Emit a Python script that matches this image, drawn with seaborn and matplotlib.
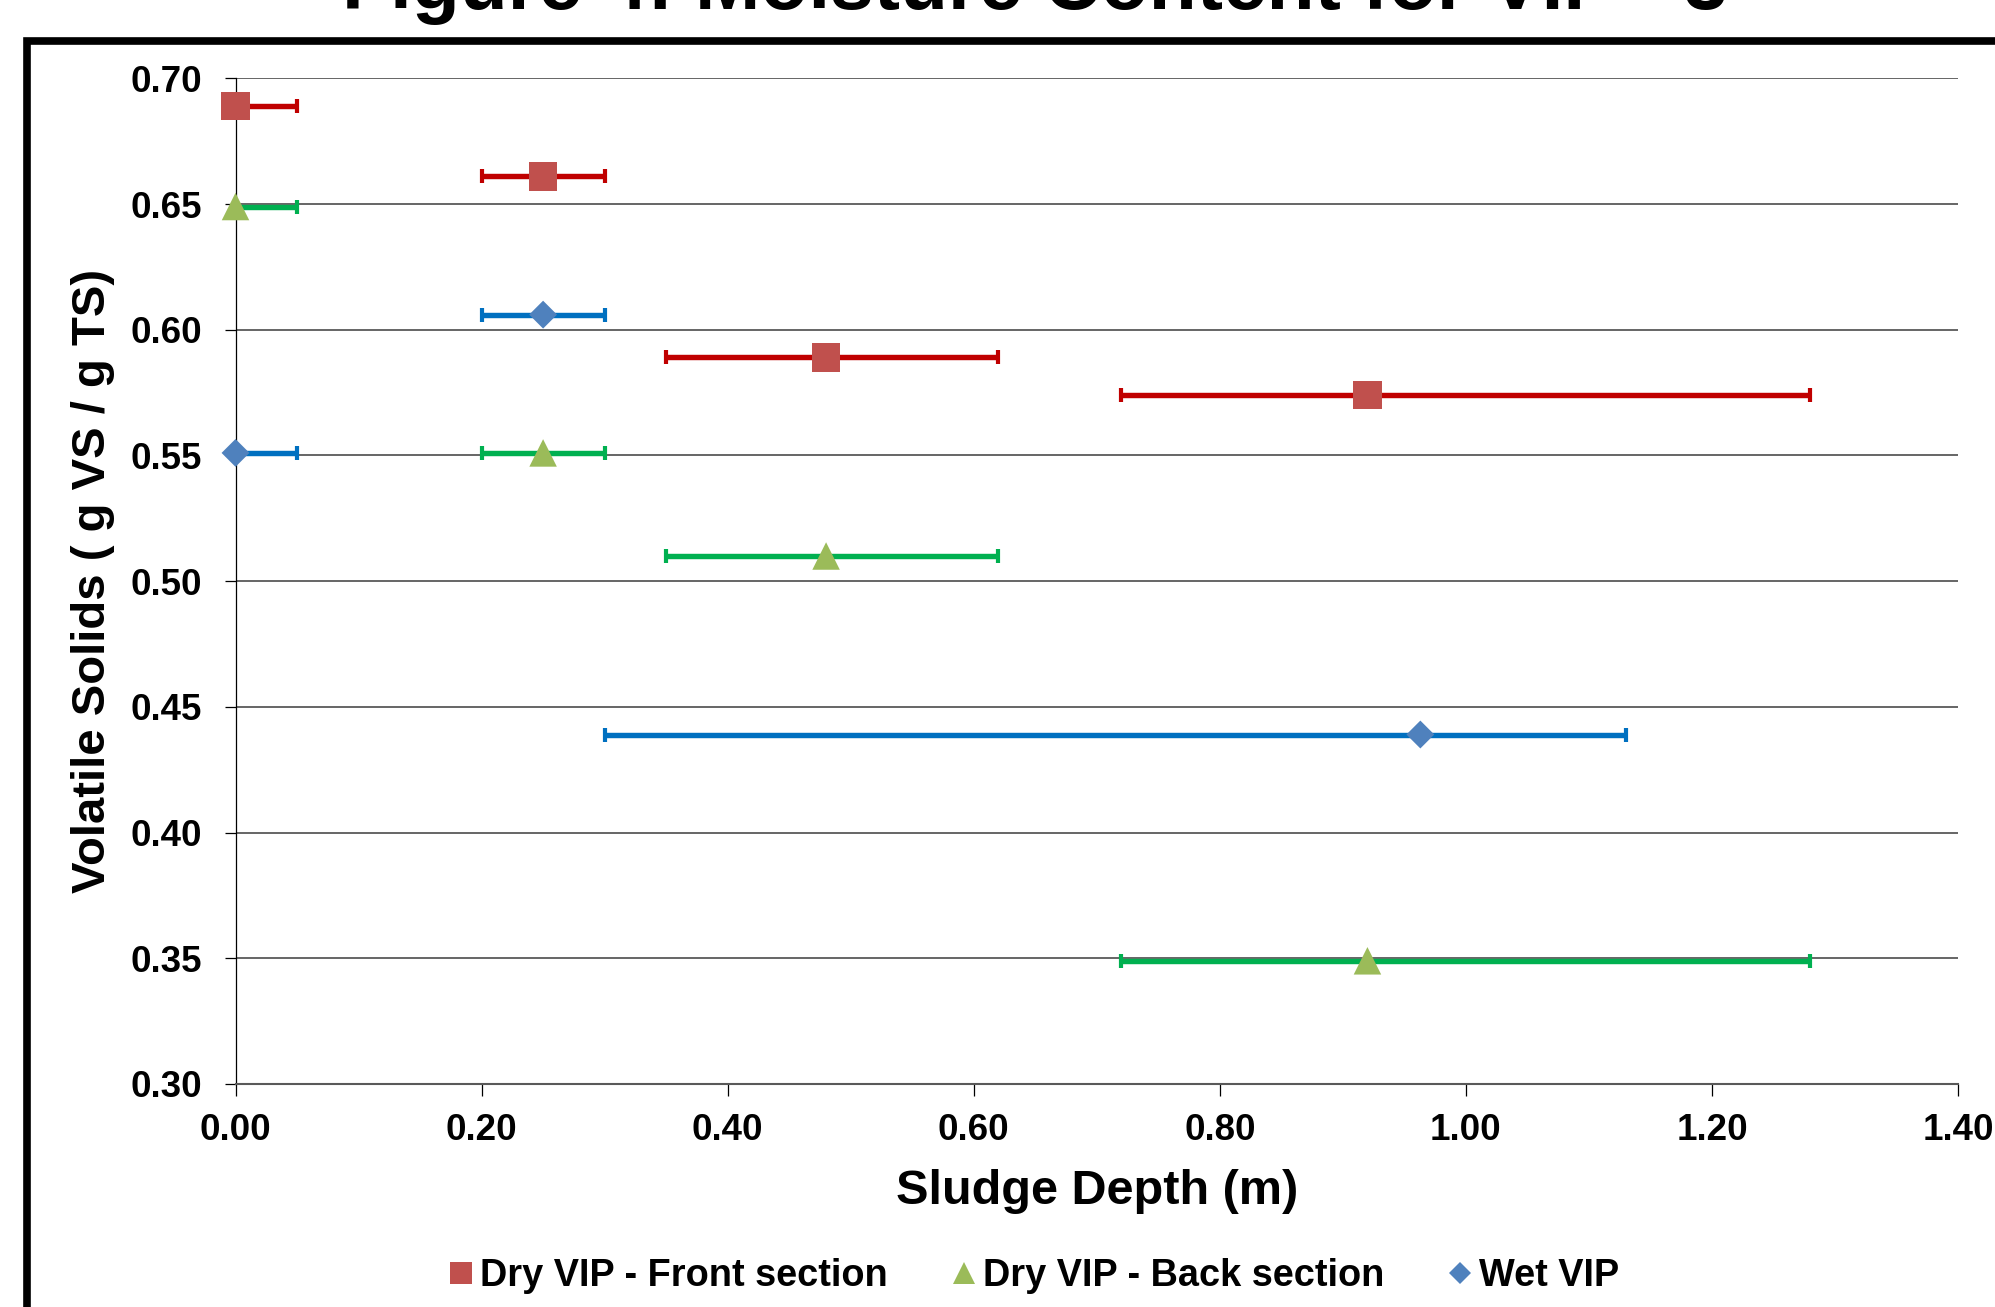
import numpy as np
import pandas as pd
import matplotlib
matplotlib.use("Agg")
import matplotlib.pyplot as plt
from matplotlib.patches import Rectangle
from matplotlib.lines import Line2D
import seaborn as sns

# Volatile solids (g VS / g TS) against sludge depth (m); lo/hi give the sampled depth interval
front_depth = [0.00, 0.25, 0.48, 0.92]
front_vs = [0.689, 0.661, 0.589, 0.574]
front_lo = [0.00, 0.20, 0.35, 0.72]
front_hi = [0.05, 0.30, 0.62, 1.28]

back_depth = [0.00, 0.25, 0.48, 0.92]
back_vs = [0.649, 0.551, 0.510, 0.349]
back_lo = [0.00, 0.20, 0.35, 0.72]
back_hi = [0.05, 0.30, 0.62, 1.28]

wet_depth = [0.00, 0.25, 0.963]
wet_vs = [0.551, 0.606, 0.439]
wet_lo = [0.00, 0.20, 0.30]
wet_hi = [0.05, 0.30, 1.13]

series_names = ["Dry VIP - Front section", "Dry VIP - Back section", "Wet VIP"]
x_ticks = [0.00, 0.20, 0.40, 0.60, 0.80, 1.00, 1.20, 1.40]
y_ticks = [0.30, 0.35, 0.40, 0.45, 0.50, 0.55, 0.60, 0.65, 0.70]

title_text = "Figure 4: Moisture Content for VIP - 3"
x_label = "Sludge Depth (m)"
y_label = "Volatile Solids ( g VS / g TS)"

marker_colors = {series_names[0]: "#C0504D", series_names[1]: "#9BBB59", series_names[2]: "#4F81BD"}
bar_colors = {series_names[0]: "#C00000", series_names[1]: "#00B050", series_names[2]: "#0070C0"}
marker_shapes = {series_names[0]: "s", series_names[1]: "^", series_names[2]: "D"}
marker_pts = {series_names[0]: 20.5, series_names[1]: 19.8, series_names[2]: 14.2}
legend_pts = {series_names[0]: 16.5, series_names[1]: 16.0, series_names[2]: 11.7}

groups = [
    (series_names[0], front_depth, front_vs, front_lo, front_hi),
    (series_names[1], back_depth, back_vs, back_lo, back_hi),
    (series_names[2], wet_depth, wet_vs, wet_lo, wet_hi),
]
df = pd.concat(
    [pd.DataFrame({"depth": d, "vs": v, "lo": lo, "hi": hi, "series": name})
     for name, d, v, lo, hi in groups],
    ignore_index=True,
)

sns.set_theme(style="white")
plt.rcParams["font.family"] = ["Liberation Sans", "DejaVu Sans"]
plt.rcParams["font.weight"] = "bold"
plt.rcParams["axes.labelweight"] = "bold"
plt.rcParams["text.color"] = "black"
plt.rcParams["axes.labelcolor"] = "black"
plt.rcParams["xtick.color"] = "black"
plt.rcParams["ytick.color"] = "black"

fig = plt.figure(figsize=(19.95, 13.07), dpi=100)
fig.patch.set_facecolor("white")
ax = fig.add_axes([0.11805, 0.17062, 0.86341, 0.76947])

# horizontal depth-interval bars
for name in series_names:
    sub = df[df["series"] == name]
    ax.errorbar(
        sub["depth"], sub["vs"],
        xerr=[sub["depth"] - sub["lo"], sub["hi"] - sub["depth"]],
        fmt="none", ecolor=bar_colors[name], elinewidth=3.9,
        capsize=5.3, capthick=3.0, zorder=3, clip_on=False,
    )

sns.scatterplot(
    data=df, x="depth", y="vs", hue="series", style="series", size="series",
    palette=marker_colors, markers=marker_shapes,
    sizes={k: v ** 2 for k, v in marker_pts.items()},
    hue_order=series_names, style_order=series_names, size_order=series_names,
    linewidth=0, legend=False, zorder=5, clip_on=False, ax=ax,
)

ax.set_xlim(0, 1.40)
ax.set_ylim(0.30, 0.70)
ax.set_xticks(x_ticks)
ax.set_xticklabels([f"{t:.2f}" for t in x_ticks])
ax.set_yticks(y_ticks)
ax.set_yticklabels([f"{t:.2f}" for t in y_ticks])
ax.tick_params(axis="x", direction="out", length=8.6, width=0.9, color="black",
               pad=12.5, labelsize=26.5, labelcolor="black", bottom=True)
ax.tick_params(axis="y", direction="out", length=8, width=0.9, color="black",
               pad=16, labelsize=26.5, labelcolor="black", left=True)

ax.yaxis.grid(True, color="#595959", linewidth=1.3)
ax.xaxis.grid(False)
ax.set_axisbelow(True)
for side in ("top", "right"):
    ax.spines[side].set_visible(False)
ax.spines["left"].set_color("black")
ax.spines["left"].set_linewidth(0.9)
ax.spines["bottom"].set_color("#595959")
ax.spines["bottom"].set_linewidth(1.5)

ax.set_xlabel(x_label, fontsize=35, fontweight="bold", va="center", color="black")
ax.xaxis.set_label_coords(0.5, -0.1064)
ax.set_ylabel(y_label, fontsize=34, fontweight="bold", va="center", color="black")
ax.yaxis.set_label_coords(-0.0830, 0.5)

handles = [
    Line2D([], [], linestyle="none", marker=marker_shapes[n], markersize=legend_pts[n],
           markerfacecolor=marker_colors[n], markeredgewidth=0)
    for n in series_names
]
fig.legend(handles, series_names, loc="center", bbox_to_anchor=(0.5175, 0.0238),
           ncol=3, frameon=False, fontsize=27.3, handlelength=0.8, handletextpad=0.1,
           columnspacing=1.6, borderaxespad=0, borderpad=0, labelcolor="black")

# chart-area frame and title
fig.add_artist(Rectangle((0.01353, -0.2), 1.3, 0.96825 + 0.2, fill=False,
                         edgecolor="black", linewidth=5.5, transform=fig.transFigure))
fig.text(0.5185, 1 - 9 / 1307, title_text, ha="center", va="baseline",
         fontsize=56.5, fontweight="bold", color="black")

fig.savefig("out.png", dpi=100, facecolor="white")
